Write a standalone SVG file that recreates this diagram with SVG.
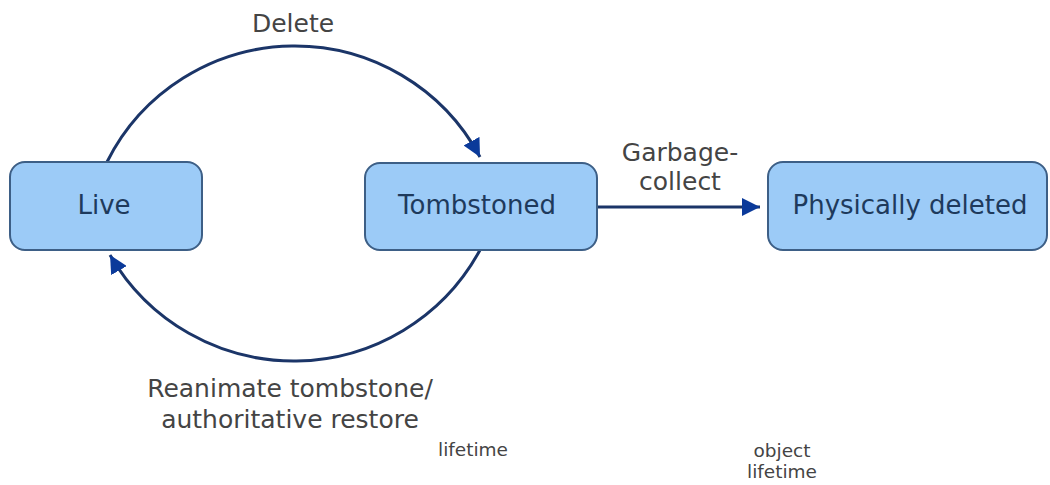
<svg xmlns="http://www.w3.org/2000/svg" width="1050" height="485" viewBox="0 0 1050 485">
<defs>
<style>
.node rect{fill:#9ccbf7;stroke:#3d5f86;stroke-width:2}
.node text{font-family:"DejaVu Sans",Verdana,sans-serif;font-size:26px;fill:#1e3a5c;text-anchor:middle}
.lbl{font-family:"DejaVu Sans",Verdana,sans-serif;font-size:25px;fill:#444;text-anchor:middle}
.small{font-family:"DejaVu Sans",Verdana,sans-serif;font-size:18.5px;fill:#444;text-anchor:middle}
.conn{fill:none;stroke:#1b3568;stroke-width:3}
</style>
<marker id="ah" viewBox="0 0 10 10" refX="10" refY="5" markerWidth="6" markerHeight="6" markerUnits="strokeWidth" orient="auto">
<path d="M0,0 L10,5 L0,10 Z" fill="#0b3a9a"/>
</marker>
</defs>
<rect width="1050" height="485" fill="#fff"/>
<g id="connectors">
<path class="conn" d="M107,162 A210 210 0 0 1 480,157" marker-end="url(#ah)"/>
<path class="conn" d="M480,250 A212 212 0 0 1 110,255" marker-end="url(#ah)"/>
<path class="conn" d="M597,207 L760,207" marker-end="url(#ah)"/>
</g>
<g id="node-live" class="node">
<rect x="10" y="162" width="192" height="88" rx="15"/>
<text x="104" y="214">Live</text>
</g>
<g id="node-tombstoned" class="node">
<rect x="365" y="163" width="232" height="87" rx="15"/>
<text x="477" y="214">Tombstoned</text>
</g>
<g id="node-deleted" class="node">
<rect x="768" y="162" width="279" height="88" rx="15"/>
<text x="910" y="214">Physically deleted</text>
</g>
<g id="labels">
<text class="lbl" x="293" y="32">Delete</text>
<text class="lbl" x="680" y="161">Garbage-</text>
<text class="lbl" x="680" y="190">collect</text>
<text class="lbl" x="290" y="397">Reanimate tombstone/</text>
<text class="lbl" x="290" y="428">authoritative restore</text>
<text class="small" x="473" y="456">lifetime</text>
<text class="small" x="782" y="457">object</text>
<text class="small" x="782" y="478">lifetime</text>
</g>
</svg>
